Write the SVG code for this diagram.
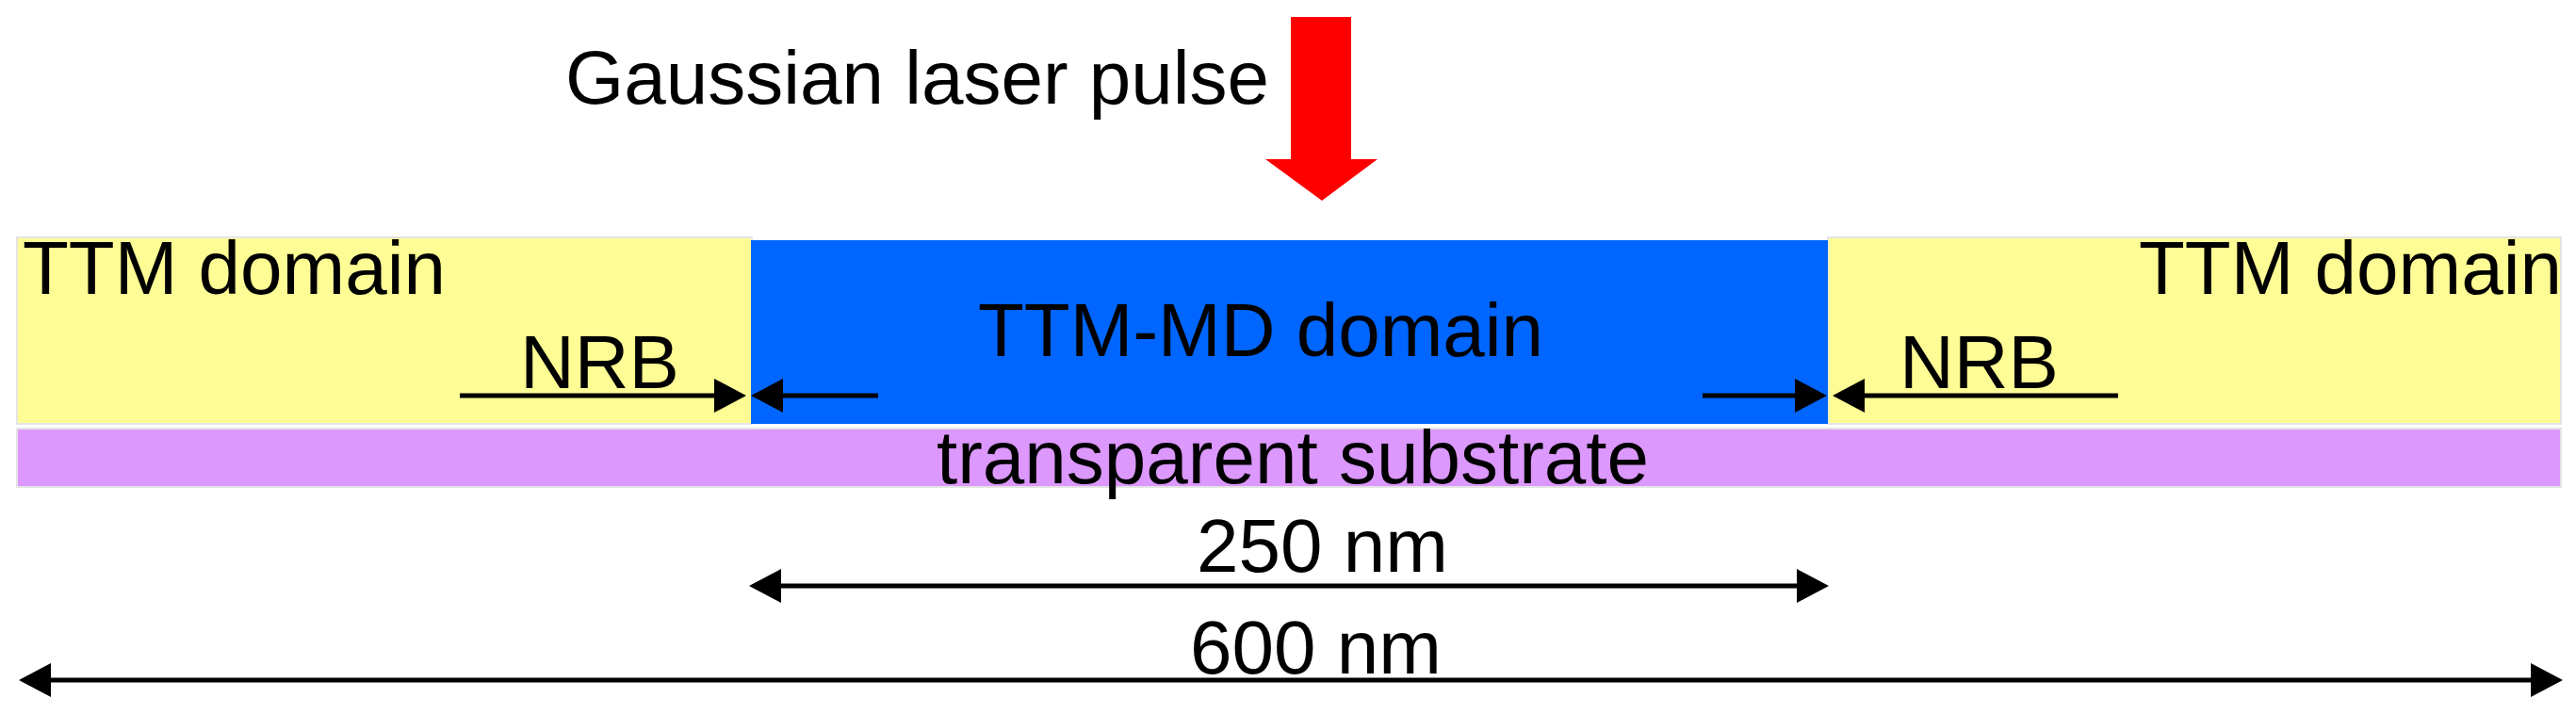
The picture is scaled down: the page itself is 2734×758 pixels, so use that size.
<svg xmlns="http://www.w3.org/2000/svg" width="2734" height="758" viewBox="0 0 2734 758">
  <style>
    text { font-family: "Liberation Sans", Arial, sans-serif; font-size: 80px; fill: #000; }
    .conn { stroke: #000; stroke-width: 5; fill: none; }
    .edge { stroke: #e4e4e4; stroke-width: 2; }
  </style>
  <defs>
    <marker id="ah" markerUnits="userSpaceOnUse" markerWidth="34" markerHeight="36" refX="2" refY="18" orient="auto-start-reverse">
      <path d="M0,0 L34,18 L0,36 Z" fill="#000"/>
    </marker>
  </defs>
  <rect width="2734" height="758" fill="#fff"/>

  <g id="laser">
    <polygon points="1370,18 1434,18 1434,169 1462,169 1403,213 1343,169 1370,169" fill="#ff0000"/>
    <text x="600" y="110">Gaussian laser pulse</text>
  </g>

  <g id="ttm-left">
    <rect class="edge" x="18" y="252" width="780" height="198" fill="#fefc94"/>
    <text x="24" y="312">TTM domain</text>
  </g>
  <g id="ttm-right">
    <rect class="edge" x="1940" y="252" width="778" height="198" fill="#fefc94"/>
    <text x="2270" y="312">TTM domain</text>
  </g>
  <g id="ttm-md">
    <rect x="797" y="255" width="1143" height="195" fill="#0066ff"/>
    <text x="1038" y="378">TTM-MD domain</text>
  </g>
  <g id="substrate">
    <rect class="edge" x="18" y="455" width="2700" height="62" fill="#dc98fc"/>
    <text x="994" y="513">transparent substrate</text>
  </g>

  <g id="labels">
    <text x="552" y="412">NRB</text>
    <text x="2016" y="412">NRB</text>
    <text x="1270" y="607">250 nm</text>
    <text x="1263" y="715">600 nm</text>
  </g>

  <g id="connectors">
    <line class="conn" x1="488" y1="420" x2="760" y2="420" marker-end="url(#ah)"/>
    <line class="conn" x1="932" y1="420" x2="829" y2="420" marker-end="url(#ah)"/>
    <line class="conn" x1="1807" y1="420" x2="1907" y2="420" marker-end="url(#ah)"/>
    <line class="conn" x1="2248" y1="420" x2="1977" y2="420" marker-end="url(#ah)"/>
    <line class="conn" x1="827" y1="622" x2="1909" y2="622" marker-start="url(#ah)" marker-end="url(#ah)"/>
    <line class="conn" x1="52" y1="722" x2="2688" y2="722" marker-start="url(#ah)" marker-end="url(#ah)"/>
  </g>
</svg>
